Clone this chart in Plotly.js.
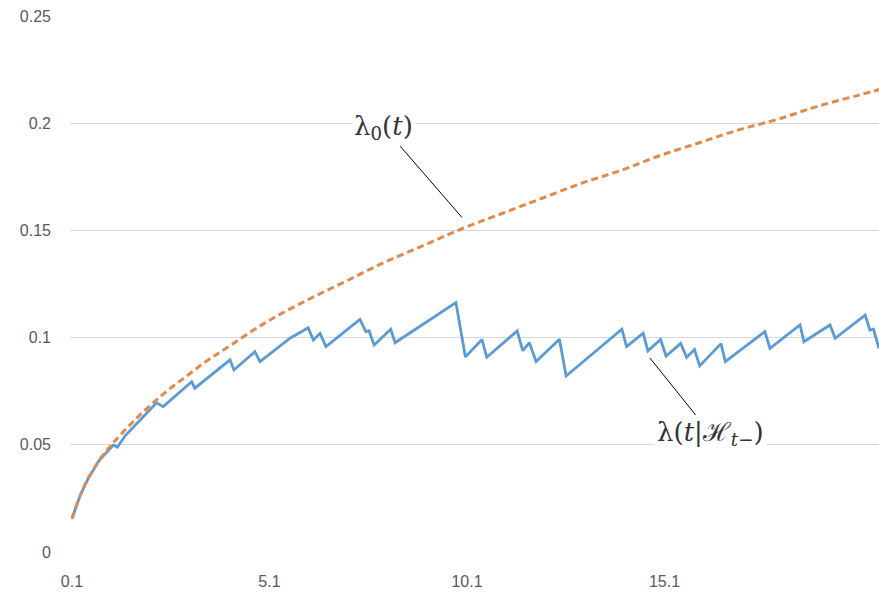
<!DOCTYPE html>
<html>
<head>
<meta charset="utf-8">
<script src="https://cdn.plot.ly/plotly-3.0.1.min.js"></script>
<style>html,body{margin:0;padding:0;background:#fff;}#chart{width:879px;height:605px;}</style>
</head>
<body>
<div id="chart"></div>
<script>
// Baseline intensity lambda_0(t)
const baseT = [0.1, 0.3, 0.5, 0.8, 1.1, 1.5, 2.0, 2.5, 3.0, 3.5, 4.0, 5.0, 6.0, 7.0, 8.0, 9.0, 10.0, 11.0, 12.0, 13.0, 14.0, 15.0, 16.0, 17.0, 18.0, 19.0, 20.0, 20.6];
const baseY = [0.0155, 0.026, 0.034, 0.043, 0.050, 0.058, 0.067, 0.075, 0.082, 0.089, 0.095, 0.107, 0.117, 0.126, 0.135, 0.143, 0.151, 0.158, 0.165, 0.172, 0.178, 0.185, 0.191, 0.197, 0.202, 0.208, 0.213, 0.216];

// Conditional intensity lambda(t | H_{t-})
const condT = [0.1, 0.3, 0.5, 0.8, 1.15, 1.25, 1.44, 2.24, 2.41, 3.13, 3.21, 4.10, 4.20, 4.73, 4.86, 5.62, 6.08, 6.21, 6.38, 6.53, 7.39, 7.54, 7.62, 7.75, 8.17, 8.28, 9.82, 10.06, 10.48, 10.60, 11.37, 11.51, 11.68, 11.85, 12.44, 12.61, 14.02, 14.14, 14.56, 14.68, 15.00, 15.14, 15.51, 15.66, 15.86, 15.99, 16.53, 16.64, 17.64, 17.77, 18.53, 18.63, 19.29, 19.42, 20.18, 20.30, 20.39, 20.53];
const condY = [0.0155, 0.026, 0.034, 0.043, 0.0499, 0.0489, 0.0541, 0.0696, 0.0678, 0.0794, 0.0764, 0.0896, 0.0849, 0.0934, 0.0888, 0.0997, 0.1046, 0.0989, 0.1020, 0.0958, 0.1085, 0.1028, 0.1032, 0.0965, 0.1039, 0.0976, 0.1163, 0.0910, 0.0991, 0.0908, 0.1031, 0.0939, 0.0976, 0.0888, 0.0992, 0.0821, 0.1039, 0.0958, 0.1021, 0.0938, 0.0991, 0.0914, 0.0973, 0.0908, 0.0944, 0.0868, 0.0972, 0.0888, 0.1028, 0.0950, 0.1059, 0.0981, 0.1059, 0.0997, 0.1105, 0.1035, 0.1039, 0.0950];

const xTickVals = [0.1, 5.1, 10.1, 15.1];
const xTickText = ['0.1', '5.1', '10.1', '15.1'];
const yTickVals = [0, 0.05, 0.1, 0.15, 0.2, 0.25];
const yTickText = ['0', '0.05', '0.1', '0.15', '0.2', '0.25'];

const traces = [
  {x: condT, y: condY, type: 'scatter', mode: 'lines', name: 'lambda(t|H)',
   line: {color: '#5B9BD5', width: 2.8}, hoverinfo: 'skip'},
  {x: baseT, y: baseY, type: 'scatter', mode: 'lines', name: 'lambda0',
   line: {color: '#E08A4E', width: 3, dash: '7px,4px', shape: 'spline'}, hoverinfo: 'skip'}
];

const tickFont = {family: 'Liberation Sans, Arial, sans-serif', size: 16, color: '#595959'};

const layout = {
  width: 879, height: 605,
  margin: {l: 70, r: 0, t: 16, b: 53, pad: 0},
  paper_bgcolor: '#ffffff', plot_bgcolor: '#ffffff',
  showlegend: false,
  xaxis: {
    range: [0.05, 20.53], tickmode: 'array', tickvals: xTickVals, ticktext: xTickText,
    showgrid: false, zeroline: false, showline: false, automargin: false,
    ticks: '', ticklabelstandoff: 18,
    tickfont: tickFont
  },
  yaxis: {
    range: [0, 0.25], tickmode: 'array', tickvals: yTickVals, ticktext: yTickText,
    showgrid: true, gridcolor: '#d9d9d9', gridwidth: 1,
    zeroline: false, showline: false, automargin: false,
    ticks: '', ticklabelstandoff: 18,
    tickfont: tickFont
  },
  annotations: [
    {x: 9.97, y: 0.1561, xref: 'x', yref: 'y',
     text: 'λ<sub>0</sub>(<i>t</i>)', showarrow: true, arrowhead: 0, arrowwidth: 1, arrowcolor: '#000',
     ax: -78, ay: -90, bgcolor: '#ffffff', borderpad: 2,
     font: {family: 'DejaVu Serif, Liberation Serif, serif', size: 26, color: '#333'}},
    {x: 14.73, y: 0.0905, xref: 'x', yref: 'y',
     text: 'λ(<i>t</i>|ℋ<sub><i>t</i>−</sub>)', showarrow: true, arrowhead: 0, arrowwidth: 1, arrowcolor: '#000',
     ax: 61, ay: 76, bgcolor: '#ffffff', borderpad: 2,
     font: {family: 'DejaVu Serif, Liberation Serif, serif', size: 26, color: '#333'}}
  ]
};

Plotly.newPlot('chart', traces, layout, {displayModeBar: false, staticPlot: true});
</script>
</body>
</html>
